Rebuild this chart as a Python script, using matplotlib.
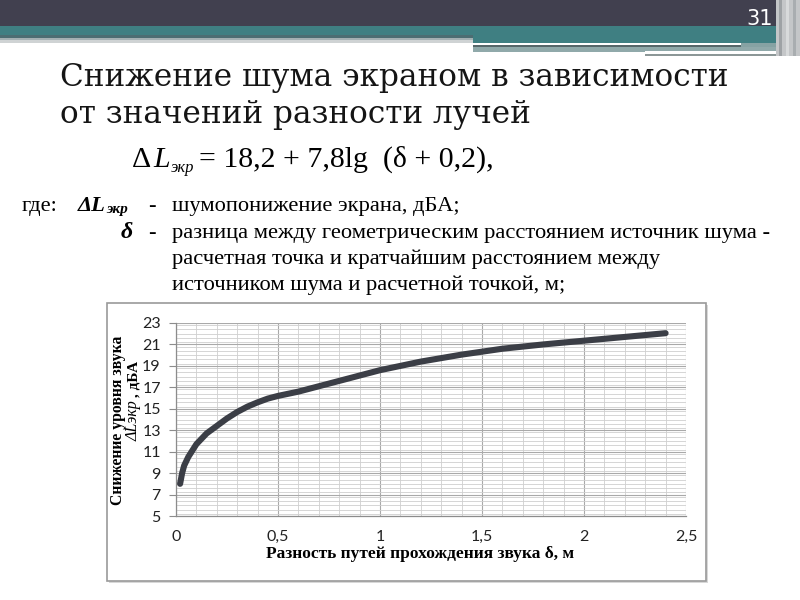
import matplotlib
matplotlib.use("Agg")
import matplotlib.pyplot as plt
from matplotlib.patches import Rectangle
from matplotlib.ticker import MultipleLocator

# ---- data ----
delta = [0.02, 0.03, 0.04, 0.06, 0.08, 0.1, 0.15, 0.2, 0.25, 0.3, 0.35, 0.4,
         0.45, 0.5, 0.6, 0.7, 0.8, 0.9, 1.0, 1.2, 1.4, 1.6, 1.8, 2.0, 2.2, 2.4]
dL = [8.0, 9.0, 9.7, 10.5, 11.1, 11.7, 12.7, 13.4, 14.1, 14.7, 15.2, 15.6,
      15.95, 16.2, 16.6, 17.1, 17.6, 18.1, 18.6, 19.4, 20.05, 20.6, 21.0, 21.35, 21.7, 22.05]
x_ticks = [0, 0.5, 1, 1.5, 2, 2.5]
x_tick_labels = ["0", "0,5", "1", "1,5", "2", "2,5"]
y_ticks = [5, 7, 9, 11, 13, 15, 17, 19, 21, 23]
y_tick_labels = [str(v) for v in y_ticks]

title_lines = ["Снижение шума экраном в зависимости", "от значений разности лучей"]
x_label = "Разность путей прохождения звука δ, м"
slide_no = "31"

W, H = 800, 600
fig = plt.figure(figsize=(8, 6), dpi=100)
fig.patch.set_facecolor("white")


def fx(x):
    return x / W


def fy(y):
    return 1 - y / H


def rect(x0, y0, x1, y1, color, z=1):
    fig.patches.append(Rectangle((fx(x0), fy(y1)), (x1 - x0) / W, (y1 - y0) / H,
                                 transform=fig.transFigure, facecolor=color,
                                 edgecolor="none", zorder=z))


# ---- header bands ----
rect(0, 0, 800, 26, "#41404f")
rect(0, 26, 800, 35, "#3f7f82")
rect(0, 35, 473, 37.5, "#4c6d72")
rect(0, 37.5, 473, 40, "#a3b0b2")
rect(0, 40, 473, 43, "#cfd3d4")
rect(473, 35, 776, 42.5, "#3f7f82")
rect(473, 42.5, 741, 45, "#ffffff")
rect(473, 45, 741, 47, "#56676a")
rect(473, 47, 776, 52, "#90a9aa")
rect(741, 42.5, 776, 47, "#86a2a3")
rect(645, 51, 776, 54, "#ffffff")
rect(645, 54, 776, 55.5, "#8c9797")
# vertical stripes at right edge
rect(776, 0, 800, 56, "#c4c6c8")
rect(779, 0, 782, 56, "#9ea2a5")
rect(786, 0, 789, 56, "#d8dadb")
rect(793, 0, 796, 56, "#a9adb0")
fig.text(fx(773), fy(25), slide_no, color="white", fontsize=15,
         family="DejaVu Sans Condensed", ha="right", va="baseline")

# ---- title ----
fig.text(fx(60), fy(86), title_lines[0], family="DejaVu Serif", fontsize=22.4,
         color="#151515", va="baseline", ha="left")
fig.text(fx(60), fy(123), title_lines[1], family="DejaVu Serif", fontsize=22.4,
         color="#151515", va="baseline", ha="left")

# ---- formula ----
ser = "Liberation Serif"
fs_f = 21.5
fig.text(fx(132), fy(167), "Δ", family=ser, fontsize=fs_f, va="baseline")
fig.text(fx(153), fy(167), "L", family=ser, fontsize=fs_f, style="italic", va="baseline")
fig.text(fx(171), fy(172), "экр", family=ser, fontsize=12, style="italic", va="baseline")
fig.text(fx(199), fy(167), "= 18,2 + 7,8lg  (δ + 0,2),", family=ser, fontsize=fs_f,
         va="baseline")

# ---- legend lines ----
fs_b = 16.2
fig.text(fx(22), fy(211), "где:", family=ser, fontsize=fs_b, va="baseline")
fig.text(fx(78), fy(211), "ΔL", family=ser, fontsize=fs_b, style="italic",
         weight="bold", va="baseline")
fig.text(fx(106), fy(213), "экр", family=ser, fontsize=11, style="italic",
         weight="bold", va="baseline")
fig.text(fx(148), fy(211), "-", family=ser, fontsize=fs_b, va="baseline")
fig.text(fx(172), fy(211), "шумопонижение экрана, дБА;", family=ser, fontsize=fs_b,
         va="baseline")
fig.text(fx(121), fy(238), "δ", family=ser, fontsize=fs_b + 1, style="italic",
         weight="bold", va="baseline")
fig.text(fx(148), fy(238), "-", family=ser, fontsize=fs_b, va="baseline")
fig.text(fx(172), fy(238), "разница между геометрическим расстоянием источник шума -",
         family=ser, fontsize=fs_b, va="baseline")
fig.text(fx(172), fy(264), "расчетная точка и кратчайшим расстоянием между",
         family=ser, fontsize=fs_b, va="baseline")
fig.text(fx(172), fy(290), "источником шума и расчетной точкой, м;",
         family=ser, fontsize=fs_b, va="baseline")

# ---- chart frame ----
rect(109, 305, 708, 583, "#d8d8d8", z=0)
fig.patches.append(Rectangle((fx(107), fy(581)), (706 - 107) / W, (581 - 303) / H,
                             transform=fig.transFigure, facecolor="white",
                             edgecolor="#9a9a9a", linewidth=1.2, zorder=0.5))

# ---- chart ----
ax = fig.add_axes([fx(176), fy(516), (686 - 176) / W, (516 - 323) / H])
ax.set_facecolor("none")
ax.set_zorder(2)
ax.set_xlim(0, 2.5)
ax.set_ylim(5, 23)
ax.xaxis.set_major_locator(MultipleLocator(0.5))
ax.xaxis.set_minor_locator(MultipleLocator(0.1))
ax.yaxis.set_major_locator(MultipleLocator(2))
ax.yaxis.set_minor_locator(MultipleLocator(0.4))
ax.set_yticks(y_ticks)
ax.set_xticks(x_ticks)
ax.set_xticklabels(x_tick_labels)
ax.set_yticklabels(y_tick_labels)
ax.grid(which="major", color="#a9a9a9", linewidth=0.8)
ax.grid(which="minor", color="#cfcfcf", linewidth=0.6)
ax.set_axisbelow(True)
for s in ["top", "right"]:
    ax.spines[s].set_visible(False)
for s in ["left", "bottom"]:
    ax.spines[s].set_color("#8c8c8c")
    ax.spines[s].set_linewidth(0.9)
ax.tick_params(which="minor", length=0)
ax.tick_params(which="major", direction="out", length=5, color="#8c8c8c",
               labelsize=11.5, labelcolor="#222222", pad=6)
ax.tick_params(axis="x", which="major", length=0, pad=10)
for lab in ax.get_xticklabels() + ax.get_yticklabels():
    lab.set_family("Lato")

ax.plot(delta, dL, color="#3b3e46", linewidth=4.4, solid_capstyle="round",
        solid_joinstyle="round", zorder=3)

fig.text(fx(420), fy(558), x_label, family=ser, weight="bold", fontsize=12.5,
         ha="center", va="baseline")
fig.text(fx(118), fy(420), "Снижение уровня звука", family=ser, weight="bold",
         fontsize=11.3, rotation=90, ha="center", va="center")
fig.text(fx(134), fy(441), "ΔLэкр", family=ser, style="italic",
         fontsize=11.5, rotation=90, ha="center", va="bottom")
fig.text(fx(134), fy(401), " , дБА", family=ser, weight="bold",
         fontsize=11, rotation=90, ha="center", va="bottom")

fig.savefig("out.png", dpi=100, facecolor="white")
